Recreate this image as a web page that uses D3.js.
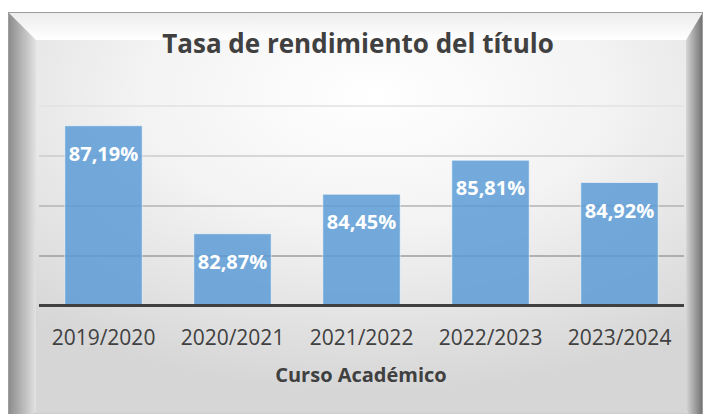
<!DOCTYPE html>
<html>
<head>
<meta charset="utf-8">
<script src="https://cdn.jsdelivr.net/npm/d3@7"></script>
<style>
  body { margin: 0; background: #fff; }
  svg { display: block; }
  text { font-family: "Open Sans", sans-serif; }
</style>
</head>
<body>
<div id="chart"></div>
<script>
var cursos = ["2019/2020", "2020/2021", "2021/2022", "2022/2023", "2023/2024"],
    tasas = [87.19, 82.87, 84.45, 85.81, 84.92],
    gridTicks = [82, 84, 86, 88];

var width = 707, height = 414,
    frame = {x0: 8, y0: 12, x1: 703, y1: 430},
    bevel = {left: 28, top: 28, right: 17, bottom: 19},
    plot = {left: 39, right: 684, top: 55, bottom: 305.5};

var svg = d3.select("#chart").append("svg")
    .attr("width", width)
    .attr("height", height);

var defs = svg.append("defs");

// fondo interior: radial, blanco arriba al centro, gris hacia las esquinas
var rg = defs.append("radialGradient").attr("id", "bg")
    .attr("cx", "52%").attr("cy", "15%").attr("r", "80%");
rg.append("stop").attr("offset", "0%").attr("stop-color", "#ffffff");
rg.append("stop").attr("offset", "45%").attr("stop-color", "#f3f3f3");
rg.append("stop").attr("offset", "100%").attr("stop-color", "#d6d6d6");

function lin(id, x1, y1, x2, y2, c1, c2) {
  var g = defs.append("linearGradient").attr("id", id)
    .attr("x1", x1).attr("y1", y1).attr("x2", x2).attr("y2", y2);
  g.append("stop").attr("offset", "0%").attr("stop-color", c1);
  g.append("stop").attr("offset", "100%").attr("stop-color", c2);
}
lin("bvL", "0", "0", "1", "0", "#8a8a8a", "#e2e2e2");
lin("bvT", "0", "0", "0", "1", "#ececec", "#ffffff");
lin("bvR", "0", "0", "1", "0", "#d6d6d6", "#6e6e6e");
lin("bvB", "0", "0", "0", "1", "#d8d8d8", "#9a9a9a");

var ix0 = frame.x0 + bevel.left, iy0 = frame.y0 + bevel.top,
    ix1 = frame.x1 - bevel.right, iy1 = frame.y1 - bevel.bottom;

svg.append("rect")
    .attr("x", ix0).attr("y", iy0)
    .attr("width", ix1 - ix0).attr("height", iy1 - iy0)
    .attr("fill", "url(#bg)");

function poly(pts, fill) {
  svg.append("polygon")
    .attr("points", pts.map(function(p){ return p.join(","); }).join(" "))
    .attr("fill", fill);
}
poly([[frame.x0, frame.y0], [frame.x1, frame.y0], [ix1, iy0], [ix0, iy0]], "url(#bvT)");
poly([[frame.x0, frame.y0], [ix0, iy0], [ix0, iy1], [frame.x0, frame.y1]], "url(#bvL)");
poly([[frame.x1, frame.y0], [frame.x1, frame.y1], [ix1, iy1], [ix1, iy0]], "url(#bvR)");
poly([[frame.x0, frame.y1], [ix0, iy1], [ix1, iy1], [frame.x1, frame.y1]], "url(#bvB)");

svg.append("rect")
    .attr("x", frame.x0 + 0.5).attr("y", frame.y0 + 0.5)
    .attr("width", frame.x1 - frame.x0 - 1).attr("height", frame.y1 - frame.y0)
    .attr("fill", "none").attr("stroke", "#9d9d9d");

// escalas
var x = d3.scaleBand()
    .domain(cursos)
    .range([plot.left, plot.right])
    .paddingInner(0.4)
    .paddingOuter(0.2);

var y = d3.scaleLinear()
    .domain([80, 88])
    .range([plot.bottom, plot.bottom - 200]);

var gridColor = d3.scaleLinear().domain([82, 88]).range(["#9c9c9c", "#e2e2e2"]);

// lineas de division
var grid = svg.append("g")
    .attr("transform", "translate(" + plot.left + ",0)")
    .call(d3.axisLeft(y).tickValues(gridTicks).tickSize(-(plot.right - plot.left)).tickFormat(""));
grid.select(".domain").remove();
grid.selectAll(".tick line")
    .attr("stroke", function(d){ return gridColor(d); })
    .attr("stroke-width", 1.5);

// barras
svg.append("g").selectAll("rect")
    .data(tasas)
    .enter().append("rect")
    .attr("x", function(d, i){ return x(cursos[i]); })
    .attr("y", function(d){ return y(d); })
    .attr("width", x.bandwidth())
    .attr("height", function(d){ return y(80) - y(d); })
    .attr("fill", "#5b9bd5")
    .attr("fill-opacity", 0.84)
    .attr("stroke", "#ffffff")
    .attr("stroke-opacity", 0.55)
    .attr("stroke-width", 1);

// etiquetas de datos
svg.append("g").selectAll("text")
    .data(tasas)
    .enter().append("text")
    .attr("x", function(d, i){ return x(cursos[i]) + x.bandwidth() / 2; })
    .attr("y", function(d){ return y(d) + 28; })
    .attr("dy", ".35em")
    .attr("text-anchor", "middle")
    .attr("fill", "#ffffff")
    .attr("font-weight", "bold")
    .attr("font-size", "20px")
    .text(function(d){ return d.toFixed(2).replace(".", ",") + "%"; });

// eje x
var xAxis = svg.append("g")
    .attr("transform", "translate(0," + plot.bottom + ")")
    .call(d3.axisBottom(x).tickSize(0).tickPadding(0));
xAxis.select(".domain")
    .attr("stroke", "#404040")
    .attr("stroke-width", 3)
    .attr("d", "M" + plot.left + ",0H" + plot.right);
xAxis.selectAll(".tick text")
    .attr("dy", null)
    .attr("y", 39.5)
    .attr("fill", "#404040")
    .attr("font-size", "21px")
    .attr("font-family", '"Open Sans", sans-serif');

svg.append("text")
    .attr("x", 361)
    .attr("y", 382)
    .attr("text-anchor", "middle")
    .attr("fill", "#404040")
    .attr("font-weight", "bold")
    .attr("font-size", "20px")
    .text("Curso Académico");

svg.append("text")
    .attr("x", 358)
    .attr("y", 53)
    .attr("text-anchor", "middle")
    .attr("fill", "#404040")
    .attr("font-weight", "bold")
    .attr("font-size", "26px")
    .text("Tasa de rendimiento del título");
</script>
</body>
</html>
